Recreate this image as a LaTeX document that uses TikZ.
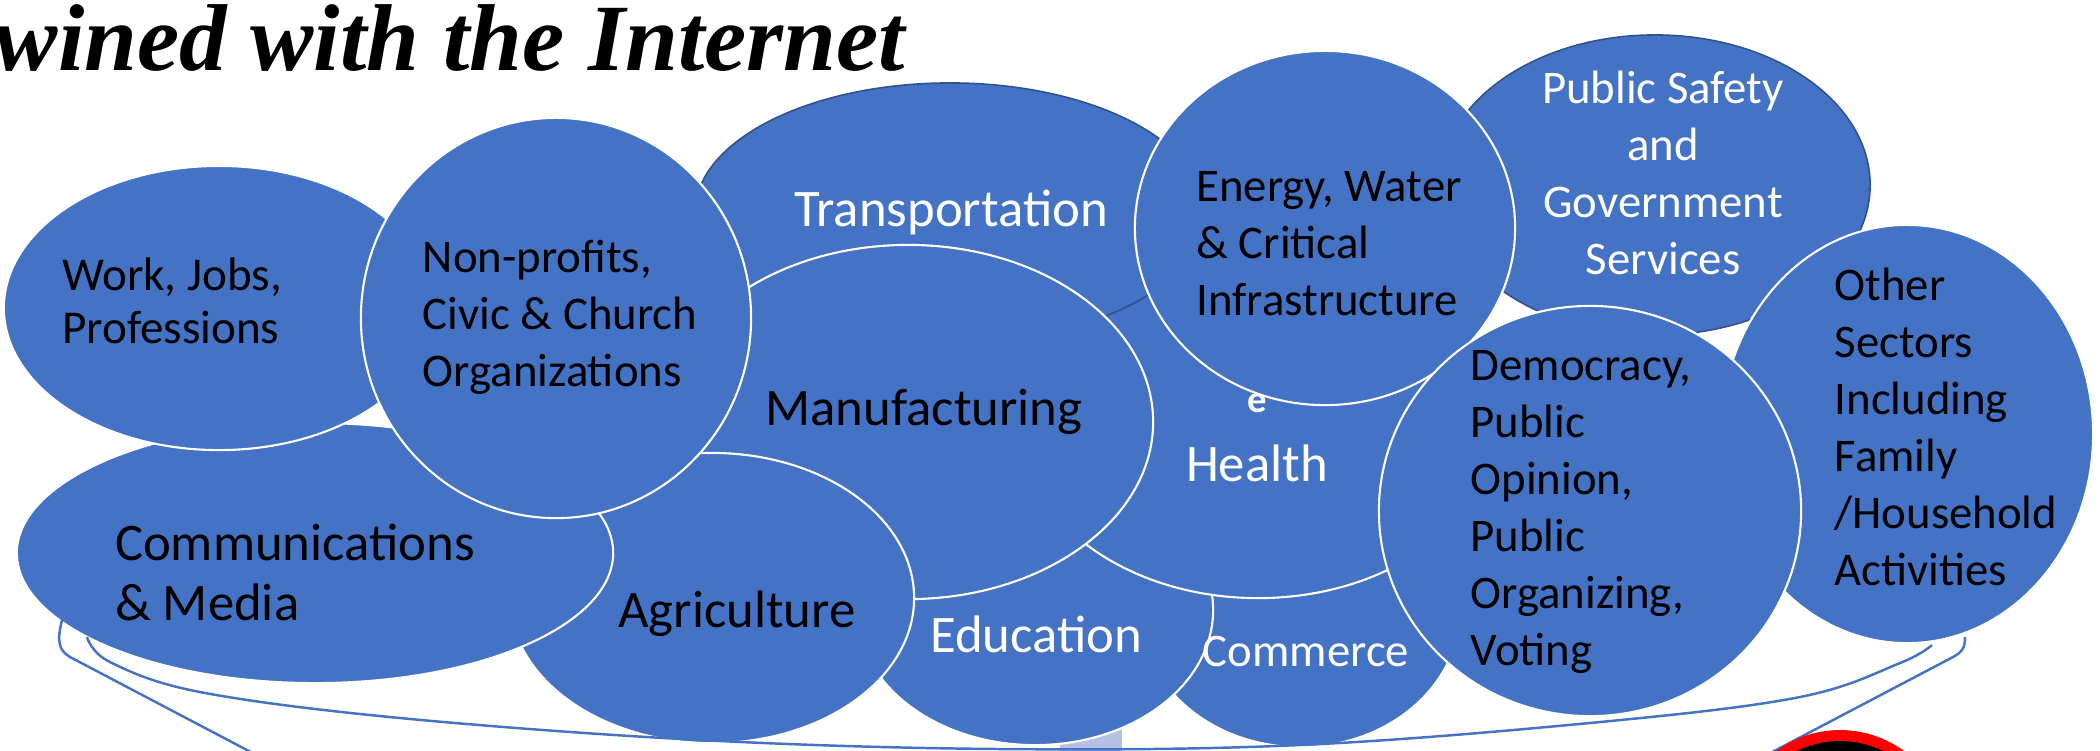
\documentclass[tikz,border=0pt]{standalone}
\usepackage{fontspec}
\setmainfont{Carlito}
\newfontfamily\titlefont{Liberation Serif}
\usetikzlibrary{shapes.geometric}

\definecolor{sectorblue}{RGB}{68,114,196}
\definecolor{edgeblue}{RGB}{47,82,143}
\definecolor{barblue}{RGB}{180,193,226}

\tikzset{
	sector/.style={ellipse, fill=sectorblue, draw=white, line width=0.6pt, inner sep=0pt},
	darksector/.style={sector, draw=edgeblue, line width=0.45pt},
	bigtxt/.style={font=\fontsize{15}{17}\selectfont, inner sep=0pt},
	smalltxt/.style={font=\fontsize{13.3}{16.2}\selectfont, inner sep=0pt},
	brace/.style={draw=sectorblue, line width=0.7pt}
}

\begin{document}
\begin{tikzpicture}[x=0.01cm, y=-0.01cm]
	\useasboundingbox (0,0) rectangle (2100,750);
	\clip (0,0) rectangle (2100,750);

	\node[anchor=base west, inner sep=0pt, font=\titlefont\bfseries\itshape\fontsize{27}{30}\selectfont] (title) at (-6,70) {wined with the Internet};

	% sectors, back to front
	\fill[barblue] (1060,700) rectangle (1122,760);
	\node[sector, minimum width=3.20cm, minimum height=2.74cm] (commerce) at (1300,610) {};
	\node[sector, minimum width=3.56cm, minimum height=2.70cm] (education) at (1035,610) {};
	\node[sector, minimum width=4.80cm, minimum height=3.56cm] (health) at (1258,420) {};
	\node[darksector, minimum width=5.10cm, minimum height=2.60cm] (transport) at (950,213) {};
	\node[darksector, minimum width=4.30cm, minimum height=3.00cm] (safety) at (1655,185) {};
	\node[sector, minimum width=4.90cm, minimum height=3.54cm] (manufacturing) at (908,422) {};
	\node[sector, minimum width=4.04cm, minimum height=2.90cm] (agriculture) at (712,598) {};
	\node[sector, minimum width=5.96cm, minimum height=2.60cm] (communications) at (315,553) {};
	\node[sector, minimum width=4.30cm, minimum height=2.84cm] (work) at (219,308) {};
	\node[sector, minimum width=3.90cm, minimum height=4.00cm] (nonprofits) at (556,318) {};
	\node[sector, minimum width=3.80cm, minimum height=3.54cm] (energy) at (1325,228) {};
	\node[sector, minimum width=3.72cm, minimum height=4.18cm] (other) at (1907,434) {};
	\node[sector, minimum width=4.22cm, minimum height=4.10cm] (democracy) at (1590,511) {};

	% labels
	\node[smalltxt, align=left, font=\fontsize{13.4}{15.2}\selectfont] (worktxt) at (172,301) {Work, Jobs,\\Professions};
	\node[smalltxt, align=left] (nonprofitstxt) at (560,317) {Non-profits,\\Civic \& Church\\Organizations};
	\node[bigtxt, white] (transporttxt) at (951,212) {Transportation};
	\node[bigtxt] (manufacturingtxt) at (924,412) {Manufacturing};
	\node[smalltxt, align=left] (energytxt) at (1329,244) {Energy, Water\\\& Critical\\Infrastructure};
	\node[smalltxt, align=center, white] (safetytxt) at (1663,173) {Public Safety\\and\\Government\\Services};
	\node[smalltxt, align=left] (othertxt) at (1946,427) {Other\\Sectors\\Including\\Family\\/Household\\Activities};
	\node[smalltxt, align=left] (democracytxt) at (1581,512) {Democracy,\\Public\\Opinion,\\Public\\Organizing,\\Voting};
	\node[inner sep=0pt, white, font=\bfseries\fontsize{11}{13}\selectfont] (healthmark) at (1257,403) {e};
	\node[bigtxt, white] (healthtxt) at (1257,463) {Health};
	\node[bigtxt, align=left, font=\fontsize{15}{17.1}\selectfont] (communicationstxt) at (295,572) {Communications\\\& Media};
	\node[bigtxt] (agriculturetxt) at (737,614) {Agriculture};
	\node[bigtxt, white] (educationtxt) at (1036,634) {Education};
	\node[smalltxt, white] (commercetxt) at (1306,651) {Commerce};

	% brace under the sectors
	\draw[brace] (62,620) .. controls (57,640) and (58,650) .. (70,657) -- (266,760);
	\draw[brace] plot[smooth, tension=0.6] coordinates {(87,637) (110,662) (200,692) (400,718) (700,740) (1000,749) (1300,745) (1600,722) (1800,697) (1900,663) (1932,645)};
	\draw[brace] (1965,637) .. controls (1965,648) and (1962,652) .. (1953,657) -- (1757,760);

	\fill[red] (1840,838) circle[radius=108];
	\draw[black, line width=0.1cm] (1840,838) circle[radius=92];
\end{tikzpicture}
\end{document}
